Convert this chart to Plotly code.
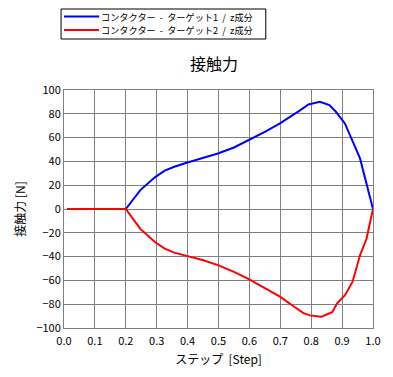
import plotly.graph_objects as go

step_flat = [0.01, 0.05, 0.1, 0.15, 0.2]
force_flat = [0, 0, 0, 0, 0]

step_t1 = step_flat + [0.247, 0.294, 0.326, 0.357, 0.397, 0.451, 0.498, 0.55, 0.598, 0.65, 0.699, 0.734,
                       0.765, 0.791, 0.828, 0.859, 0.88, 0.909, 0.927, 0.958, 1.0]
force_t1 = force_flat + [15.9, 26.6, 32.2, 35.5, 38.9, 43.4, 46.7, 51.7, 57.9, 64.9, 71.9, 77.5,
                         83.1, 87.8, 90.1, 87.3, 81.7, 71.9, 60.7, 42.5, 0]

step_t2 = step_flat + [0.247, 0.294, 0.326, 0.357, 0.397, 0.451, 0.498, 0.55, 0.598, 0.65, 0.699, 0.744,
                       0.775, 0.796, 0.832, 0.848, 0.868, 0.884, 0.91, 0.934, 0.958, 0.979, 1.0]
force_t2 = force_flat + [-16.7, -27.8, -33.3, -36.7, -39.4, -43.1, -47.2, -52.8, -58.9, -66.7, -73.6, -81.9,
                         -87.5, -89.4, -90.6, -88.9, -86.7, -79.2, -72.2, -61.1, -38.9, -25.0, 0]

names = ["コンタクター  -  ターゲット1  /  z成分", "コンタクター  -  ターゲット2  /  z成分"]
colors = ["#0000FF", "#FF0000"]

FONT = "Noto Sans CJK JP"

# page is rendered with an 8px body margin; compensate so plot lands where the reference has it
OFF = 8
W, H = 393 - OFF, 377 - OFF
PL, PR, PT, PB = 60, 377, 90, 328  # reference pixel box of plot area


def px(X):
    return (X - PL) / (PR - PL)


def py(Y):
    return (PB - Y) / (PB - PT)


fig = go.Figure()
for xs, ys, nm, c in [(step_t1, force_t1, names[0], colors[0]),
                      (step_t2, force_t2, names[1], colors[1])]:
    fig.add_trace(go.Scatter(x=xs, y=ys, mode="lines", name=nm, showlegend=False,
                             line=dict(color=c, width=2)))

# legend box (drawn to match the compact reference legend)
shapes = [dict(type="rect", xref="paper", yref="paper",
               x0=px(57), x1=px(267), y0=py(39), y1=py(9),
               line=dict(color="black", width=1), fillcolor="white", layer="above")]
annotations = []
for i, (nm, c) in enumerate(zip(names, colors)):
    yy = 16.5 + 13.5 * i
    shapes.append(dict(type="line", xref="paper", yref="paper",
                       x0=px(60), x1=px(96), y0=py(yy), y1=py(yy),
                       line=dict(color=c, width=2), layer="above"))
    annotations.append(dict(text=nm, xref="paper", yref="paper", x=px(97), y=py(yy),
                            xanchor="left", yanchor="middle", showarrow=False,
                            borderpad=0, font=dict(size=9.2, color="black", family=FONT)))

axis_common = dict(showgrid=True, gridcolor="#808080", gridwidth=1,
                   showline=True, linecolor="#808080", linewidth=1, mirror=True,
                   zeroline=False, ticks="", tickfont=dict(size=11, color="black", family=FONT))

fig.update_layout(
    width=W, height=H,
    margin=dict(l=PL - OFF, r=W - (PR - OFF), t=PT - OFF, b=H - (PB - OFF)),
    paper_bgcolor="white", plot_bgcolor="white",
    font=dict(family=FONT, color="black", size=12),
    title=dict(text="接触力", x=px(214), xref="paper", xanchor="center",
               y=1 - (64 - OFF) / H, yanchor="middle", font=dict(size=16)),
    showlegend=False,
    shapes=shapes,
    annotations=annotations,
    xaxis=dict(range=[0, 1], dtick=0.1, tickformat=".1f", ticklabelstandoff=3,
               title=dict(text="ステップ  [Step]", font=dict(size=12), standoff=8),
               **axis_common),
    yaxis=dict(range=[-100, 100], dtick=20,
               title=dict(text="接触力 [N]", font=dict(size=12), standoff=8),
               **axis_common),
)

fig.write_html("out.html")
